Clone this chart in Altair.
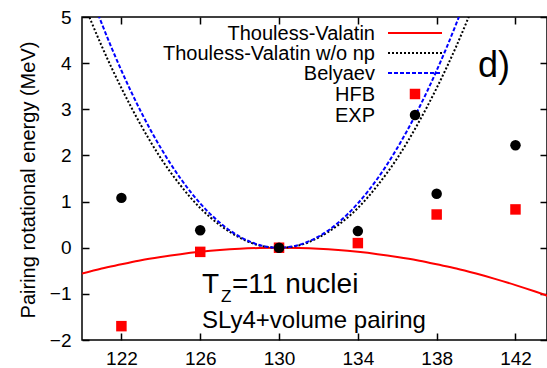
import altair as alt
import pandas as pd

# ---- data ----
tv_x = [120, 121, 122, 123, 124, 125, 126, 127, 128, 129, 130, 131, 132, 133, 134, 135, 136, 137, 138, 139, 140, 141, 142, 143, 144]
tv_y = [-0.56, -0.45, -0.36, -0.27, -0.20, -0.14, -0.09, -0.05, -0.022, -0.006, 0.0, -0.006, -0.022, -0.05, -0.09, -0.14, -0.20, -0.27, -0.36, -0.45, -0.56, -0.68, -0.81, -0.95, -1.10]

tvnp_x = [120, 120.5, 121, 122, 123, 124, 125, 126, 127, 128, 129, 130, 131, 132, 133, 134, 135, 136, 137, 138, 139, 139.5, 140]
tvnp_y = [5.40, 4.87, 4.37, 3.46, 2.65, 1.94, 1.35, 0.86, 0.49, 0.22, 0.05, 0.0, 0.05, 0.22, 0.49, 0.86, 1.35, 1.94, 2.65, 3.46, 4.37, 4.87, 5.40]

bel_x = [120.5, 121, 122, 123, 124, 125, 126, 127, 128, 129, 130, 131, 132, 133, 134, 135, 136, 137, 138, 139, 139.5]
bel_y = [5.42, 4.86, 3.84, 2.94, 2.16, 1.50, 0.96, 0.54, 0.24, 0.06, 0.0, 0.06, 0.24, 0.54, 0.96, 1.50, 2.16, 2.94, 3.84, 4.86, 5.42]

nuclei_a = [122, 126, 130, 134, 138, 142]
hfb_y = [-1.70, -0.09, 0.0, 0.10, 0.72, 0.83]
exp_y = [1.08, 0.38, 0.0, 0.36, 1.17, 2.22]

x_ticks = [122, 126, 130, 134, 138, 142]
y_ticks = [-2, -1, 0, 1, 2, 3, 4, 5]
legend_labels = ["Thouless-Valatin", "Thouless-Valatin w/o np", "Belyaev", "HFB", "EXP"]

FONT = "Liberation Sans"
W, H = 465, 323

xs = alt.Scale(domain=[120, 143.6], nice=False, zero=False)
ys = alt.Scale(domain=[-2, 5], nice=False, zero=False)

x_bottom = alt.Axis(orient="bottom", values=x_ticks, tickSize=7, offset=-7, domain=False, grid=False,
                    tickColor="black", tickWidth=1.5, labelFontSize=19, labelFont=FONT, labelColor="black",
                    labelPadding=9, title=None)
y_left = alt.Axis(orient="left", values=y_ticks, tickSize=7, offset=-7, domain=False, grid=False,
                  tickColor="black", tickWidth=1.5, labelFontSize=19, labelFont=FONT, labelColor="black",
                  labelPadding=11, title="Pairing rotational energy (MeV)", titleFontSize=20,
                  titleFont=FONT, titleFontWeight="normal", titleColor="black",
                  titleX=-55, titleY=H / 2 + 1, titleAngle=-90, titleBaseline="alphabetic", titleAlign="center")
x_top = alt.Axis(orient="top", values=x_ticks, tickSize=7, offset=-7, domain=False, grid=False,
                 tickColor="black", tickWidth=1.5, labels=False, title=None)
y_right = alt.Axis(orient="right", values=y_ticks, tickSize=7, offset=-7, domain=False, grid=False,
                   tickColor="black", tickWidth=1.5, labels=False, title=None)

df_tv = pd.DataFrame({"x": tv_x, "y": tv_y})
df_np = pd.DataFrame({"x": tvnp_x, "y": tvnp_y})
df_bel = pd.DataFrame({"x": bel_x, "y": bel_y})
df_pts = pd.DataFrame({"x": nuclei_a, "hfb": hfb_y, "exp": exp_y})

red = alt.Chart(df_tv).mark_line(color="#ff0000", strokeWidth=2, clip=True, interpolate="monotone").encode(
    x=alt.X("x:Q", scale=xs, axis=x_bottom), y=alt.Y("y:Q", scale=ys, axis=y_left))

mirror = alt.Chart(df_pts).mark_point(opacity=0).encode(
    x=alt.X("x:Q", scale=xs, axis=x_top), y=alt.Y("exp:Q", scale=ys, axis=y_right))

black = alt.Chart(df_np).mark_line(color="black", strokeWidth=2, strokeDash=[2, 2], clip=True,
                                   interpolate="monotone").encode(
    x=alt.X("x:Q", scale=xs, axis=None), y=alt.Y("y:Q", scale=ys, axis=None))

blue = alt.Chart(df_bel).mark_line(color="#0000ff", strokeWidth=2, strokeDash=[4, 2], clip=True,
                                   interpolate="monotone").encode(
    x=alt.X("x:Q", scale=xs, axis=None), y=alt.Y("y:Q", scale=ys, axis=None))

hfb = alt.Chart(df_pts).mark_square(color="#ff0000", size=110, opacity=1).encode(
    x=alt.X("x:Q", scale=xs, axis=None), y=alt.Y("hfb:Q", scale=ys, axis=None))

exp = alt.Chart(df_pts).mark_circle(color="black", size=110, opacity=1).encode(
    x=alt.X("x:Q", scale=xs, axis=None), y=alt.Y("exp:Q", scale=ys, axis=None))

one = alt.Data(values=[{}])
layers = [red, mirror, black, blue, hfb, exp]

# legend (gnuplot style)
rows = [16, 36, 56, 77, 98]
for lab, ry in zip(legend_labels, rows):
    layers.append(alt.Chart(one).mark_text(text=lab, align="right", baseline="middle", font=FONT,
                                           fontSize=20, color="black").encode(
        x=alt.value(293), y=alt.value(ry + 1)))
layers.append(alt.Chart(one).mark_rule(color="#ff0000", strokeWidth=2).encode(
    x=alt.value(306), x2=alt.value(360), y=alt.value(rows[0])))
layers.append(alt.Chart(one).mark_rule(color="black", strokeWidth=2, strokeDash=[2, 2]).encode(
    x=alt.value(306), x2=alt.value(360), y=alt.value(rows[1])))
layers.append(alt.Chart(one).mark_rule(color="#0000ff", strokeWidth=2, strokeDash=[4, 2]).encode(
    x=alt.value(306), x2=alt.value(360), y=alt.value(rows[2])))
layers.append(alt.Chart(one).mark_square(color="#ff0000", size=110, opacity=1).encode(
    x=alt.value(333), y=alt.value(rows[3])))
layers.append(alt.Chart(one).mark_circle(color="black", size=110, opacity=1).encode(
    x=alt.value(333), y=alt.value(rows[4])))

# annotations
layers.append(alt.Chart(one).mark_text(text="d)", align="left", baseline="alphabetic", font=FONT,
                                       fontSize=36, color="black").encode(x=alt.value(396), y=alt.value(60)))
layers.append(alt.Chart(one).mark_text(text="T", align="left", baseline="alphabetic", font=FONT,
                                       fontSize=28, color="black").encode(x=alt.value(120), y=alt.value(276)))
layers.append(alt.Chart(one).mark_text(text="Z", align="left", baseline="alphabetic", font=FONT,
                                       fontSize=17, color="black").encode(x=alt.value(139), y=alt.value(285)))
layers.append(alt.Chart(one).mark_text(text="=11 nuclei", align="left", baseline="alphabetic", font=FONT,
                                       fontSize=28, color="black").encode(x=alt.value(150), y=alt.value(276)))
layers.append(alt.Chart(one).mark_text(text="SLy4+volume pairing", align="left", baseline="alphabetic",
                                       font=FONT, fontSize=24, color="black").encode(
    x=alt.value(120), y=alt.value(311)))

chart = alt.layer(*layers).resolve_axis(x="independent", y="independent").properties(
    width=W, height=H,
    autosize=alt.AutoSizeParams(type="none"),
    padding={"left": 82, "top": 17, "right": 0, "bottom": 28},
    background="white",
).configure_view(stroke="black", strokeWidth=1.5)

chart.save("out.html", embed_options={"renderer": "svg", "actions": False})
